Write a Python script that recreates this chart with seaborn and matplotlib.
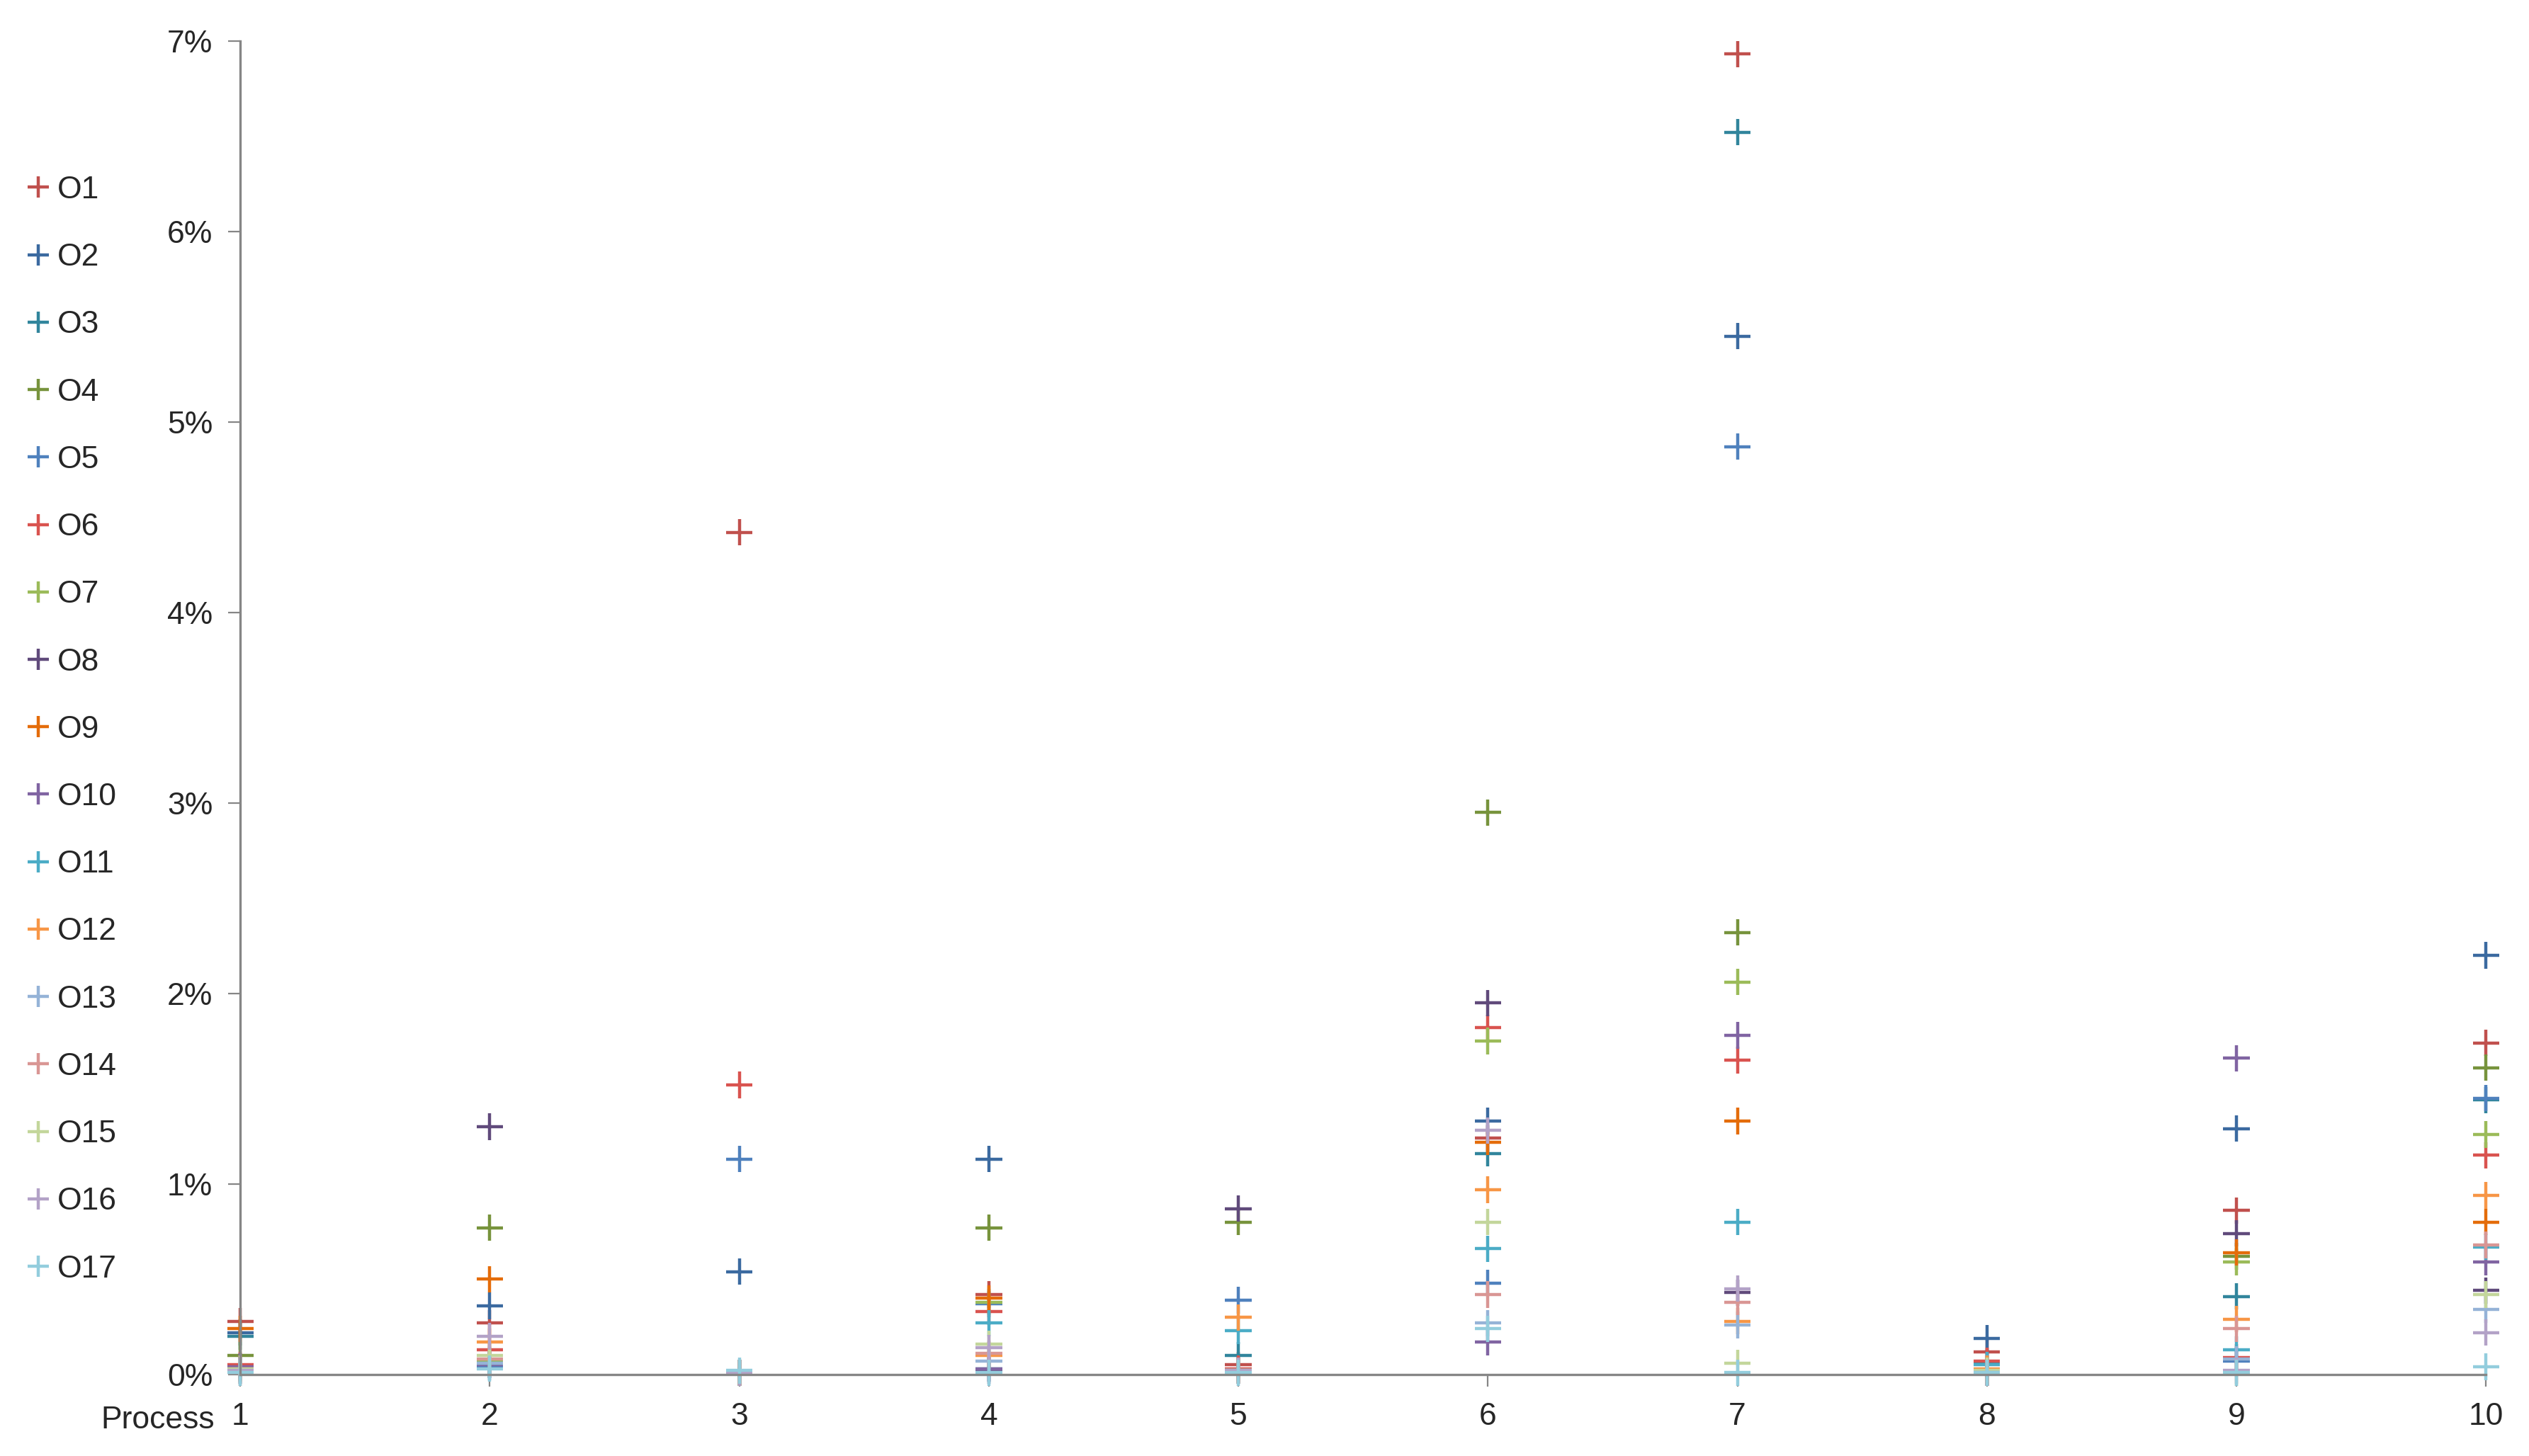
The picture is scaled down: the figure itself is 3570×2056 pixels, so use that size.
import matplotlib
matplotlib.use("Agg")
import matplotlib.pyplot as plt
import seaborn as sns
import pandas as pd
from matplotlib.lines import Line2D

processes = [1, 2, 3, 4, 5, 6, 7, 8, 9, 10]
series = [f"O{i}" for i in range(1, 18)]
colors = ["#C0504D", "#3B6AA0", "#31859C", "#77933C", "#4F81BD", "#D9534F",
          "#9BBB59", "#604A7B", "#E46C0A", "#8064A2", "#4BACC6", "#F79646",
          "#95B3D7", "#D99694", "#C3D69B", "#B3A2C7", "#93CDDD"]

# values in % for each series across processes 1..10
O1 = [0.28, 0.27, 4.42, 0.42, 0.05, 1.24, 6.93, 0.12, 0.86, 1.74]
O2 = [0.22, 0.36, 0.54, 1.13, 0.02, 1.33, 5.45, 0.19, 1.29, 2.20]
O3 = [0.20, 0.05, 0.01, 0.03, 0.10, 1.16, 6.52, 0.06, 0.41, 1.44]
O4 = [0.10, 0.77, 0.01, 0.77, 0.80, 2.95, 2.32, 0.02, 0.62, 1.61]
O5 = [0.04, 0.04, 1.13, 0.37, 0.39, 0.48, 4.87, 0.01, 0.07, 1.45]
O6 = [0.05, 0.13, 1.52, 0.33, 0.03, 1.82, 1.65, 0.07, 0.09, 1.15]
O7 = [0.02, 0.07, 0.01, 0.38, 0.02, 1.75, 2.06, 0.01, 0.59, 1.26]
O8 = [0.03, 1.30, 0.01, 0.02, 0.87, 1.95, 0.43, 0.01, 0.74, 0.44]
O9 = [0.24, 0.50, 0.01, 0.40, 0.02, 1.22, 1.33, 0.01, 0.64, 0.80]
O10 = [0.04, 0.05, 0.01, 0.03, 0.02, 0.17, 1.78, 0.01, 1.66, 0.59]
O11 = [0.02, 0.06, 0.01, 0.27, 0.23, 0.66, 0.80, 0.05, 0.13, 0.67]
O12 = [0.03, 0.17, 0.01, 0.10, 0.30, 0.97, 0.28, 0.03, 0.29, 0.94]
O13 = [0.02, 0.06, 0.01, 0.07, 0.02, 0.27, 0.26, 0.01, 0.08, 0.34]
O14 = [0.01, 0.08, 0.01, 0.11, 0.02, 0.42, 0.38, 0.01, 0.24, 0.68]
O15 = [0.03, 0.10, 0.01, 0.16, 0.02, 0.80, 0.06, 0.02, 0.01, 0.42]
O16 = [0.02, 0.20, 0.01, 0.14, 0.02, 1.28, 0.45, 0.01, 0.02, 0.22]
O17 = [0.01, 0.03, 0.02, 0.01, 0.01, 0.24, 0.01, 0.01, 0.01, 0.04]
values = [O1, O2, O3, O4, O5, O6, O7, O8, O9, O10, O11, O12, O13, O14, O15, O16, O17]

rows = []
for s, vals in zip(series, values):
    for p, v in zip(processes, vals):
        rows.append({"Process": p, "Value": v, "Series": s})
df = pd.DataFrame(rows)

sns.set_style("white")
plt.rcParams['font.family'] = ['Liberation Sans', 'DejaVu Sans']

fig = plt.figure(figsize=(17.85, 10.28), dpi=200)
ax = fig.add_axes([0.095, 0.056, 0.888, 0.916])
palette = dict(zip(series, colors))
sns.scatterplot(data=df, x="Process", y="Value", hue="Series", palette=palette,
                marker="+", s=180, linewidth=1.6, ax=ax, legend=False, clip_on=False)

ax.set_xlim(1, 10)
ax.set_ylim(0, 7)
ax.set_xticks(processes)
ax.set_xticklabels([str(p) for p in processes])
ax.set_yticks(range(8))
ax.set_yticklabels([f"{i}%" for i in range(8)])
ax.tick_params(axis='both', labelsize=16, length=6, color="#868686", direction='out',
               bottom=True, left=True, pad=8)
for side in ["top", "right"]:
    ax.spines[side].set_visible(False)
for side in ["left", "bottom"]:
    ax.spines[side].set_color("#868686")
    ax.spines[side].set_linewidth(1.2)
ax.set_xlabel("")
ax.set_ylabel("")
fig.text(0.085, 0.0245, "Process", fontsize=16, ha="right", va="center")

handles = [Line2D([], [], marker="+", linestyle="none", color=c, markersize=11,
                  markeredgewidth=1.6) for c in colors]
fig.legend(handles, series, loc="upper left", bbox_to_anchor=(0.004, 0.888),
           frameon=False, fontsize=16, handletextpad=0.1, labelspacing=1.22,
           handlelength=1.0, borderaxespad=0)

fig.savefig("out.png", dpi=200)
